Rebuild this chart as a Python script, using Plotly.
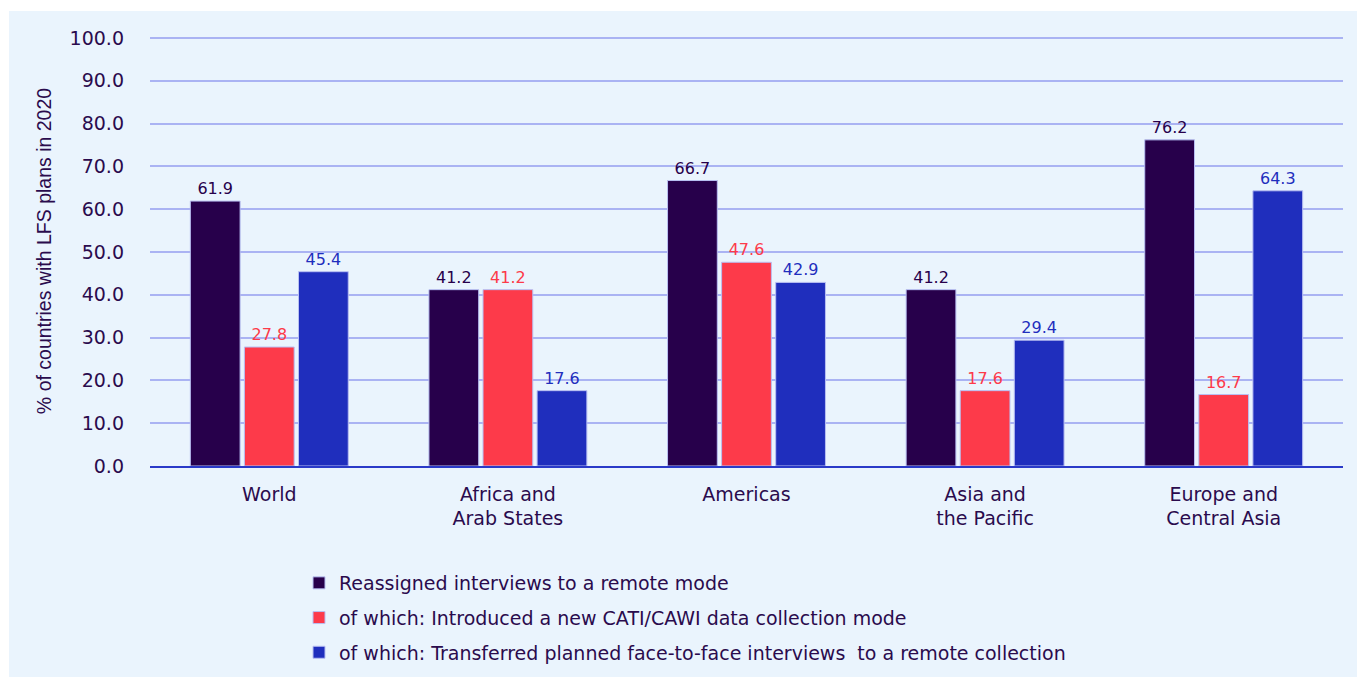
import plotly.graph_objects as go

regions = ["World", "Africa and<br>Arab States", "Americas", "Asia and<br>the Pacific", "Europe and<br>Central Asia"]
reassigned = [61.9, 41.2, 66.7, 41.2, 76.2]
new_cati_cawi = [27.8, 41.2, 47.6, 17.6, 16.7]
transferred_f2f = [45.4, 17.6, 42.9, 29.4, 64.3]
y_ticks = [0, 10, 20, 30, 40, 50, 60, 70, 80, 90, 100]

series = [
    ("Reassigned interviews to a remote mode", reassigned, "#27004b"),
    ("of which: Introduced a new CATI/CAWI data collection mode", new_cati_cawi, "#fd3a4a"),
    ("of which: Transferred planned face-to-face interviews  to a remote collection", transferred_f2f, "#1f2ebd"),
]

FONT = "DejaVu Sans"
DARK = "#2a0b4d"
BG = "#eaf4fd"

fig = go.Figure()
for i, (name, vals, color) in enumerate(series):
    fig.add_trace(go.Bar(
        name=name,
        x=regions,
        y=vals,
        legendgroup=f"g{i}",
        marker=dict(color=color, line=dict(color="#b8bff2", width=1)),
        text=[f"{v:.1f}" for v in vals],
        textposition="outside",
        textfont=dict(family=FONT, size=16, color=color),
        cliponaxis=False,
    ))

W, H = 1357, 677
ml, mr, mt, mb = 150, 14, 36, 211
pw, ph = W - ml - mr, H - mt - mb

# light panel behind everything, leaving a thin white edge at left and top
fig.add_shape(
    type="rect", xref="paper", yref="paper", layer="below",
    x0=(9 - ml) / pw, x1=(W - ml) / pw,
    y0=-mb / ph, y1=(ph + mt - 11) / ph,
    fillcolor=BG, line=dict(width=0),
)

fig.update_layout(
    width=W, height=H,
    margin=dict(l=ml, r=mr, t=mt, b=mb, pad=0, autoexpand=False),
    paper_bgcolor="white",
    plot_bgcolor=BG,
    barmode="group",
    bargap=0.32,
    bargroupgap=0.08,
    font=dict(family=FONT, color=DARK),
    showlegend=True,
    legend=dict(
        x=(299 - ml) / pw, y=-(564 - mt - ph) / ph,
        xanchor="left", yanchor="top",
        orientation="v",
        traceorder="grouped",
        tracegroupgap=7,
        font=dict(family=FONT, size=19, color=DARK),
        bgcolor="rgba(0,0,0,0)",
    ),
    xaxis=dict(
        automargin=False,
        tickfont=dict(family=FONT, size=19, color=DARK),
        showline=True, linecolor="#2a3ac8", linewidth=1.5,
        ticks="", showgrid=False,
        ticklabelstandoff=10,
    ),
    yaxis=dict(
        automargin=False,
        range=[0, 100.47],
        tickvals=y_ticks,
        ticktext=[f"{v:.1f}" for v in y_ticks],
        tickfont=dict(family=FONT, size=19, color=DARK),
        showgrid=True, gridcolor="#aab3f3", gridwidth=1.5,
        zeroline=False,
        ticks="",
        ticklabelstandoff=25,
        title=dict(
            text="% of countries with LFS plans in 2020",
            font=dict(family="Liberation Sans Narrow, Liberation Sans", size=19.5, color=DARK),
            standoff=12,
        ),
    ),
)

fig.write_html("out.html")
